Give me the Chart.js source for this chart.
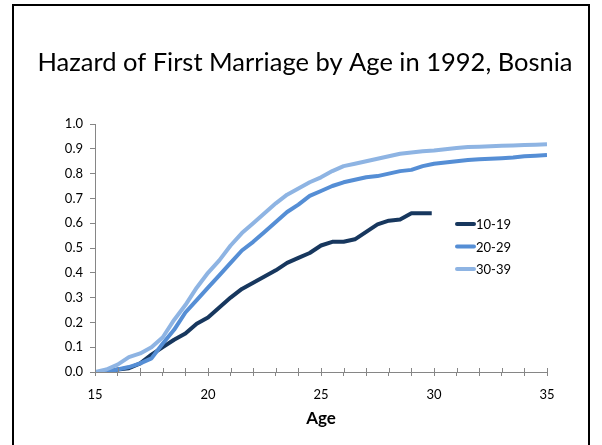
<!DOCTYPE html>
<html>
<head>
<meta charset="utf-8">
<script src="https://cdn.jsdelivr.net/npm/chart.js@4/dist/chart.umd.min.js"></script>
<style>
html,body{margin:0;padding:0;background:#fff;}
#wrap{position:relative;width:602px;height:445px;}
</style>
</head>
<body>
<div id="wrap"><canvas id="c" width="602" height="445"></canvas></div>
<script>
// ---- data ----
const chartTitle = "Hazard of First Marriage by Age in 1992, Bosnia";
const seriesNames = ["10-19", "20-29", "30-39"];
const agesShort = [15,15.5,16,16.5,17,17.5,18,18.5,19,19.5,20,20.5,21,21.5,22,22.5,23,23.5,24,24.5,25,25.5,26,26.5,27,27.5,28,28.5,29,29.5,29.9];
const agesFull = [15,15.5,16,16.5,17,17.5,18,18.5,19,19.5,20,20.5,21,21.5,22,22.5,23,23.5,24,24.5,25,25.5,26,26.5,27,27.5,28,28.5,29,29.5,30,30.5,31,31.5,32,32.5,33,33.5,34,34.5,35];
const hazard10_19 = [0,0,0.01,0.015,0.035,0.07,0.10,0.13,0.155,0.195,0.22,0.26,0.30,0.335,0.36,0.385,0.41,0.44,0.46,0.48,0.51,0.525,0.525,0.535,0.565,0.595,0.61,0.615,0.64,0.64,0.64];
const hazard20_29 = [0,0,0.01,0.02,0.035,0.055,0.115,0.17,0.24,0.29,0.34,0.39,0.44,0.49,0.525,0.565,0.605,0.645,0.675,0.71,0.73,0.75,0.765,0.775,0.785,0.79,0.80,0.81,0.815,0.83,0.84,0.845,0.85,0.855,0.858,0.86,0.862,0.865,0.87,0.872,0.875];
const hazard30_39 = [0,0.01,0.03,0.06,0.075,0.10,0.14,0.21,0.27,0.34,0.40,0.45,0.51,0.56,0.60,0.64,0.68,0.715,0.74,0.765,0.785,0.81,0.83,0.84,0.85,0.86,0.87,0.88,0.885,0.89,0.893,0.898,0.903,0.907,0.908,0.91,0.912,0.913,0.915,0.916,0.918];
const xTickLabels = [15,20,25,30,35];
const yTickLabels = [0,0.1,0.2,0.3,0.4,0.5,0.6,0.7,0.8,0.9,1.0];

const colors = ["#17375E", "#558ED5", "#8EB4E3"];
const FONT = "Lato, 'Open Sans', sans-serif";

function pts(xs, ys){ return xs.map((x,i)=>({x:x, y:ys[i]})); }

const frame = {
  id:'frame',
  beforeDraw(chart){
    const ctx = chart.ctx;
    ctx.save();
    ctx.fillStyle = '#fff';
    ctx.fillRect(0,0,chart.width,chart.height);
    ctx.strokeStyle = '#000';
    ctx.lineWidth = 2;
    ctx.strokeRect(13, 5, 576, 460);
    ctx.fillStyle = '#000';
    ctx.font = "25.5px " + FONT;
    ctx.textAlign = 'center';
    ctx.textBaseline = 'middle';
    ctx.fillText(chartTitle, 305, 63);
    ctx.restore();
  }
};

const xInnerTicks = {
  id:'xInnerTicks',
  afterDraw(chart){
    const ctx = chart.ctx, xs = chart.scales.x, ca = chart.chartArea;
    ctx.save();
    ctx.strokeStyle = '#868686';
    ctx.lineWidth = 1;
    xs.ticks.forEach(t=>{
      const px = Math.round(xs.getPixelForValue(t.value)) + 0.5;
      ctx.beginPath();
      ctx.moveTo(px, ca.bottom);
      ctx.lineTo(px, ca.bottom - 4);
      ctx.stroke();
    });
    ctx.restore();
  }
};

const customLegend = {
  id:'customLegend',
  afterDraw(chart){
    const ctx = chart.ctx, ca = chart.chartArea;
    ctx.save();
    ctx.font = "13px " + FONT;
    ctx.textBaseline = 'middle';
    ctx.textAlign = 'left';
    chart.data.datasets.forEach((ds,i)=>{
      const y = ca.top + 100 + i*22.5;
      const x0 = ca.left + 362;
      ctx.strokeStyle = ds.borderColor;
      ctx.lineWidth = 4;
      ctx.lineCap = 'round';
      ctx.beginPath();
      ctx.moveTo(x0, y);
      ctx.lineTo(x0 + 17, y);
      ctx.stroke();
      ctx.fillStyle = '#000';
      ctx.fillText(ds.label, x0 + 19, y + 1);
    });
    ctx.restore();
  }
};

new Chart(document.getElementById('c'), {
  type: 'line',
  data: {
    datasets: [
      {label: seriesNames[0], data: pts(agesShort, hazard10_19), borderColor: colors[0], backgroundColor: colors[0], order: 2},
      {label: seriesNames[1], data: pts(agesFull, hazard20_29), borderColor: colors[1], backgroundColor: colors[1], order: 1},
      {label: seriesNames[2], data: pts(agesFull, hazard30_39), borderColor: colors[2], backgroundColor: colors[2], order: 0}
    ]
  },
  options: {
    responsive: false,
    animation: false,
    devicePixelRatio: 1,
    layout: {padding: {left: 0, right: 55, top: 124, bottom: 0}},
    elements: {
      line: {borderWidth: 4, tension: 0, borderJoinStyle: 'round'},
      point: {radius: 0, hoverRadius: 0}
    },
    plugins: {
      legend: {display: false},
      tooltip: {enabled: false},
      title: {display: false}
    },
    scales: {
      x: {
        type: 'linear',
        min: 15, max: 35,
        afterFit(s){ s.height = 73; },
        border: {display: true, color: '#868686', width: 1},
        grid: {drawOnChartArea: false, drawTicks: true, tickLength: 4, color: '#868686'},
        ticks: {
          stepSize: 1, autoSkip: false, maxRotation: 0, padding: 11,
          color: '#000', font: {family: FONT, size: 13},
          callback: (v)=> xTickLabels.includes(v) ? String(v) : ''
        },
        title: {display: true, text: 'Age', color: '#000', font: {family: FONT, size: 17, weight: 'bold'}, padding: {top: 0, bottom: 16}}
      },
      y: {
        min: 0, max: 1,
        afterFit(s){ s.width = 95; },
        border: {display: true, color: '#868686', width: 1},
        grid: {drawOnChartArea: false, drawTicks: true, tickLength: 5, color: '#868686'},
        afterBuildTicks(s){ s.ticks = yTickLabels.map(v=>({value: v})); },
        ticks: {
          padding: 7, color: '#000', font: {family: FONT, size: 13},
          callback: (v)=> Number(v).toFixed(1)
        }
      }
    }
  },
  plugins: [frame, xInnerTicks, customLegend]
});
</script>
</body>
</html>
